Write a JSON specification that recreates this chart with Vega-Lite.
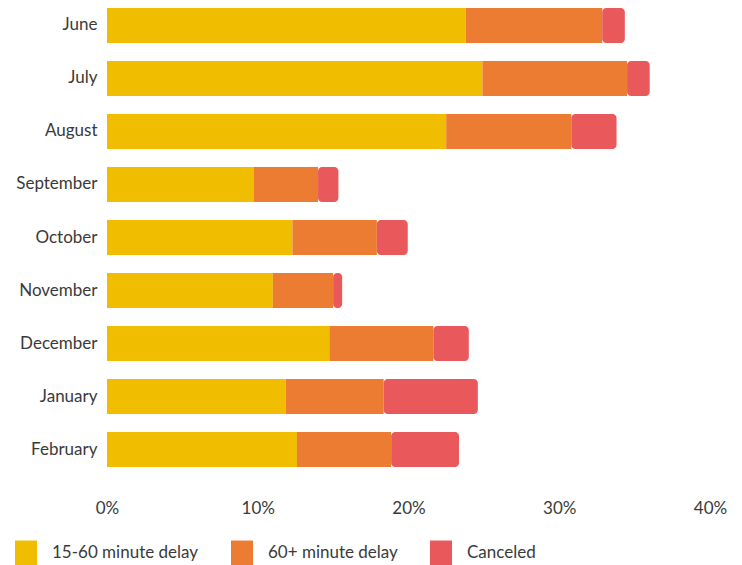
{
  "$schema": "https://vega.github.io/schema/vega-lite/v6.json",
  "autosize": "none",
  "padding": {"left": 107, "top": 0, "right": 32, "bottom": 90},
  "width": 603,
  "height": 475,
  "background": "white",
  "config": {
    "font": "Lato",
    "view": {"stroke": null},
    "axis": {"labelFont": "Lato", "labelColor": "#3a3a3a", "labelFontSize": 17, "grid": false, "domain": false, "ticks": false, "tickSize": 0},
    "legend": {"labelFont": "Lato", "labelColor": "#3a3a3a", "labelFontSize": 17}
  },
  "data": {
    "values": [
      {"month": "June", "type": "15-60 minute delay", "order": 1, "value": 0.238},
      {"month": "June", "type": "60+ minute delay", "order": 2, "value": 0.0905},
      {"month": "June", "type": "Canceled", "order": 3, "value": 0.015},
      {"month": "July", "type": "15-60 minute delay", "order": 1, "value": 0.249},
      {"month": "July", "type": "60+ minute delay", "order": 2, "value": 0.096},
      {"month": "July", "type": "Canceled", "order": 3, "value": 0.015},
      {"month": "August", "type": "15-60 minute delay", "order": 1, "value": 0.225},
      {"month": "August", "type": "60+ minute delay", "order": 2, "value": 0.083},
      {"month": "August", "type": "Canceled", "order": 3, "value": 0.030},
      {"month": "September", "type": "15-60 minute delay", "order": 1, "value": 0.0975},
      {"month": "September", "type": "60+ minute delay", "order": 2, "value": 0.0425},
      {"month": "September", "type": "Canceled", "order": 3, "value": 0.0135},
      {"month": "October", "type": "15-60 minute delay", "order": 1, "value": 0.123},
      {"month": "October", "type": "60+ minute delay", "order": 2, "value": 0.056},
      {"month": "October", "type": "Canceled", "order": 3, "value": 0.0205},
      {"month": "November", "type": "15-60 minute delay", "order": 1, "value": 0.110},
      {"month": "November", "type": "60+ minute delay", "order": 2, "value": 0.040},
      {"month": "November", "type": "Canceled", "order": 3, "value": 0.006},
      {"month": "December", "type": "15-60 minute delay", "order": 1, "value": 0.1475},
      {"month": "December", "type": "60+ minute delay", "order": 2, "value": 0.069},
      {"month": "December", "type": "Canceled", "order": 3, "value": 0.0235},
      {"month": "January", "type": "15-60 minute delay", "order": 1, "value": 0.1185},
      {"month": "January", "type": "60+ minute delay", "order": 2, "value": 0.065},
      {"month": "January", "type": "Canceled", "order": 3, "value": 0.0625},
      {"month": "February", "type": "15-60 minute delay", "order": 1, "value": 0.126},
      {"month": "February", "type": "60+ minute delay", "order": 2, "value": 0.0625},
      {"month": "February", "type": "Canceled", "order": 3, "value": 0.045}
    ]
  },
  "transform": [
    {"stack": "value", "groupby": ["month"], "sort": [{"field": "order", "order": "ascending"}], "as": ["x0", "x1"]}
  ],
  "encoding": {
    "y": {
      "field": "month", "type": "nominal", "title": null,
      "sort": ["June", "July", "August", "September", "October", "November", "December", "January", "February"],
      "scale": {"paddingInner": 0.34, "paddingOuter": 0.15},
      "axis": {"labelPadding": 10}
    },
    "x": {
      "field": "x0", "type": "quantitative", "title": null,
      "scale": {"domain": [0, 0.4], "nice": false},
      "axis": {"format": ".0%", "values": [0, 0.1, 0.2, 0.3, 0.4], "labelPadding": 25, "labelFlush": false}
    },
    "x2": {"field": "x1"},
    "color": {
      "field": "type", "type": "nominal", "title": null,
      "scale": {"domain": ["15-60 minute delay", "60+ minute delay", "Canceled"], "range": ["#F0BD00", "#EC7C31", "#E9585A"]},
      "legend": {
        "orient": "none", "direction": "horizontal", "legendX": -92, "legendY": 542,
        "symbolType": "M-1,-1.15H1V1.15H-1Z", "symbolSize": 484, "symbolStrokeWidth": 0, "symbolOpacity": 1,
        "labelOffset": 15, "columnPadding": 32, "padding": 0
      }
    }
  },
  "layer": [
    {"transform": [{"filter": "datum.type !== 'Canceled'"}], "mark": {"type": "bar"}},
    {"transform": [{"filter": "datum.type === 'Canceled'"}], "mark": {"type": "bar", "cornerRadiusEnd": 4}}
  ]
}
